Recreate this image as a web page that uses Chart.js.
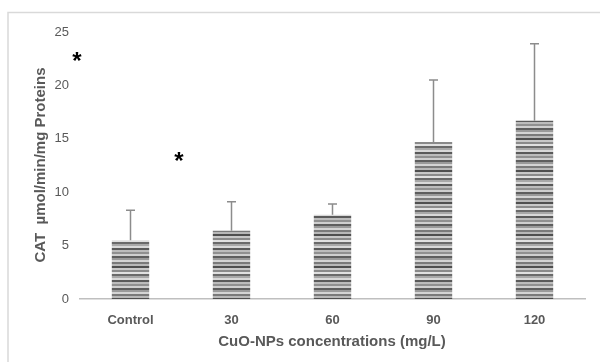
<!DOCTYPE html>
<html>
<head>
  <script src="https://cdnjs.cloudflare.com/ajax/libs/Chart.js/4.4.1/chart.umd.min.js"></script>
  <style>
    body { margin: 0; background: #fff; }
  </style>
</head>
<body>

<canvas id="catChart" width="600" height="362"></canvas>

<script>
var concLabels = ["Control", "30", "60", "90", "120"];
var catMeans = [5.5, 6.4, 7.9, 14.7, 16.7];
var catErrors = [2.8, 2.7, 1.0, 5.8, 7.2];
var yTicks = [0, 5, 10, 15, 20, 25];
var starMarks = [{ x: 77, y: 57 }, { x: 179, y: 157 }];

// horizontal stripe fill for the bars
function stripePattern() {
  var c = document.createElement("canvas");
  var shades = ["#5e5e5e", "#9a9a9a", "#d4d4d4", "#7a7a7a", "#b8b8b8", "#4f4f4f", "#c8c8c8", "#8a8a8a",
                "#e0e0e0", "#6a6a6a", "#a8a8a8", "#d8d8d8", "#5a5a5a", "#bcbcbc", "#909090", "#cfcfcf"];
  c.width = 4;
  c.height = shades.length * 2;
  var g = c.getContext("2d");
  shades.forEach(function(s, i) {
    g.fillStyle = s;
    g.fillRect(0, i * 2, 4, 2);
  });
  return g.createPattern(c, "repeat");
}

var extras = {
  id: "extras",
  beforeDraw: function(chart) {
    var ctx = chart.ctx;
    ctx.save();
    ctx.fillStyle = "#fff";
    ctx.fillRect(0, 0, chart.width, chart.height);
    ctx.strokeStyle = "#d9d9d9";
    ctx.lineWidth = 1.5;
    ctx.beginPath();
    ctx.moveTo(8, 362);
    ctx.lineTo(8, 12.5);
    ctx.lineTo(600, 12.5);
    ctx.stroke();
    ctx.restore();
  },
  afterDatasetsDraw: function(chart) {
    var ctx = chart.ctx;
    var meta = chart.getDatasetMeta(0);
    var y = chart.scales.y;
    ctx.save();
    ctx.strokeStyle = "#8c8c8c";
    ctx.lineWidth = 1.5;
    meta.data.forEach(function(bar, i) {
      var top = y.getPixelForValue(catMeans[i] + catErrors[i]);
      ctx.beginPath();
      ctx.moveTo(bar.x, bar.y);
      ctx.lineTo(bar.x, top);
      ctx.moveTo(bar.x - 4.5, top);
      ctx.lineTo(bar.x + 4.5, top);
      ctx.stroke();
    });

    ctx.fillStyle = "#000";
    ctx.font = "bold 24px 'Liberation Sans', Arial, sans-serif";
    ctx.textAlign = "center";
    ctx.textBaseline = "middle";
    starMarks.forEach(function(s) {
      ctx.fillText("*", s.x, s.y + 5);
    });

    ctx.fillStyle = "#595959";
    ctx.font = "bold 15px 'Liberation Sans', Arial, sans-serif";
    ctx.fillText("CuO-NPs concentrations (mg/L)", 332, 342);
    ctx.translate(41, 165);
    ctx.rotate(-Math.PI / 2);
    ctx.fillText("CAT  \u00b5mol/min/mg Proteins", 0, 0);
    ctx.restore();
  }
};

var ctx = document.getElementById("catChart").getContext("2d");
var catChart = new Chart(ctx, {
  type: "bar",
  data: {
    labels: concLabels,
    datasets: [{
      data: catMeans,
      backgroundColor: stripePattern(),
      borderWidth: 0,
      categoryPercentage: 1,
      barPercentage: 0.37
    }]
  },
  options: {
    responsive: false,
    animation: false,
    layout: { padding: { left: 0, right: 15, top: 32, bottom: 0 } },
    plugins: {
      legend: { display: false },
      tooltip: { enabled: false }
    },
    scales: {
      x: {
        grid: { display: false, drawTicks: false },
        border: { color: "#bfbfbf", width: 1.5 },
        ticks: {
          color: "#595959",
          padding: 14,
          font: { family: "'Liberation Sans', Arial, sans-serif", size: 13, weight: "bold" }
        },
        afterFit: function(scale) { scale.height = 63; }
      },
      y: {
        min: 0,
        max: 25,
        grid: { display: false, drawTicks: false },
        border: { display: false },
        afterBuildTicks: function(scale) {
          scale.ticks = yTicks.map(function(v) { return { value: v }; });
        },
        ticks: {
          color: "#595959",
          padding: 11,
          font: { family: "'Liberation Sans', Arial, sans-serif", size: 13 }
        },
        afterFit: function(scale) { scale.width = 80; }
      }
    }
  },
  plugins: [extras]
});
</script>

</body>
</html>
